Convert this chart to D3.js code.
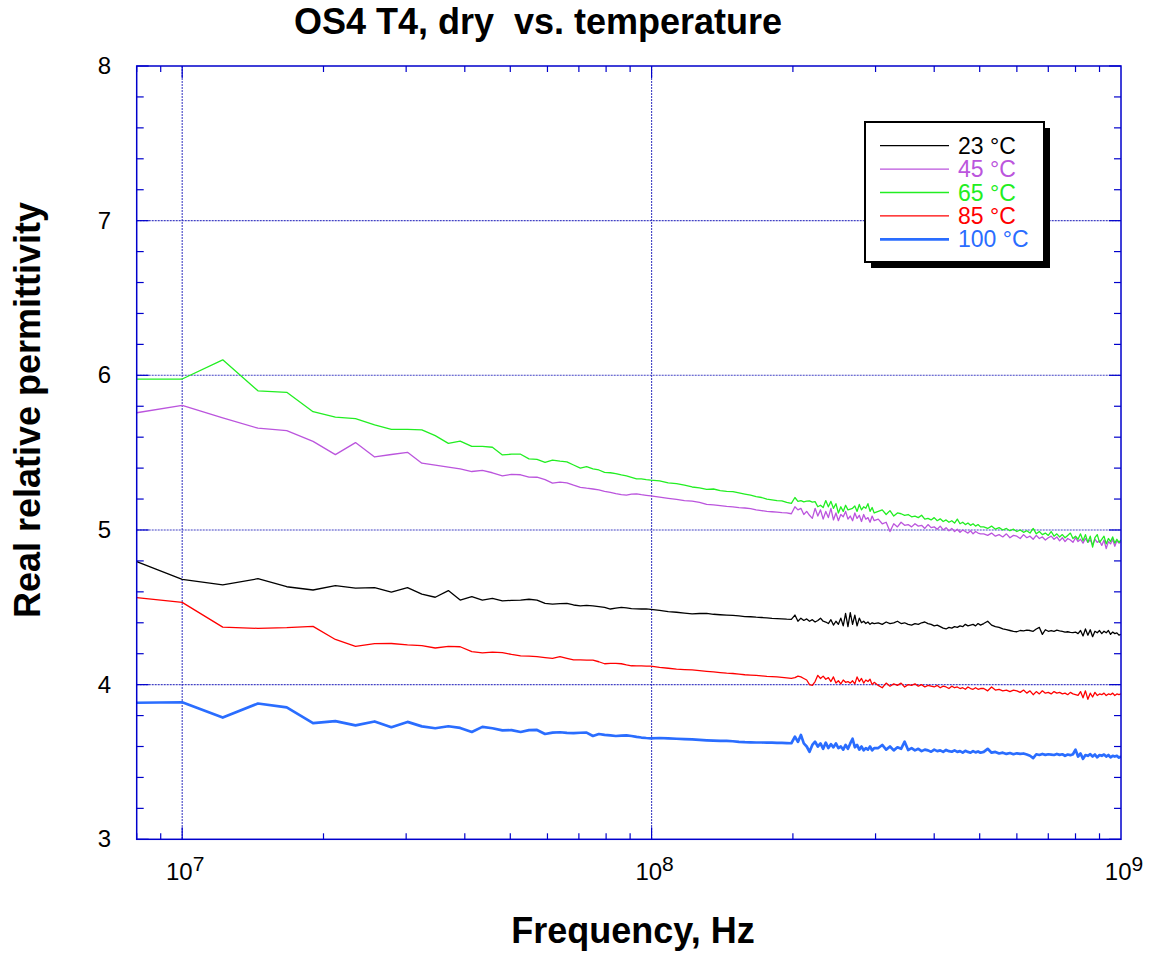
<!DOCTYPE html>
<html><head><meta charset="utf-8">
<script src="https://cdn.jsdelivr.net/npm/d3@7"></script>
<style>body{margin:0;background:#fff} svg{display:block} text{white-space:pre}</style>
</head><body><svg id="c" width="1151" height="953"></svg>
<script>
// ---------------- DATA ----------------
const freqMHz = [8,10,12.2,14.5,16.7,19,21.2,23.4,25.7,27.9,30.2,32.4,34.6,36.9,39.1,41.4,43.6,45.8,48.1,50.3,52.6,54.8,57,59.3,61.5,63.8,66,68.2,70.5,72.7,75,77.2,79.4,81.7,83.9,86.2,88.4,90.6,92.9,95.1,97.4,99.6,
104,108.5,113,117.5,122,126.5,131,135.5,140,144.5,149,153.5,158,162.5,167,171.5,176,180.5,185,189.5,194,198.5,
202,205,208,211,214,217,220,223,226,229,232,235,238,241,244,247,250,253,256,259,262,265,268,271,274,277,280,283,286,289,292,295,298,
304,310,316,322,328,334,340,346,352,358,364,370,376,382,388,394,400,406,412,418,424,430,436,442,448,454,460,466,472,478,484,490,496,502,
510,520,530,540,550,560,570,580,590,600,610,620,630,640,650,660,670,680,690,700,710,720,730,740,750,760,770,780,790,800,810,820,830,840,850,860,870,880,890,900,910,920,930,940,950,960,970,980,990,1000];

const eps23 = [4.795,4.681,4.645,4.685,4.633,4.612,4.64,4.624,4.627,4.598,4.627,4.585,4.565,4.608,4.547,4.569,4.547,4.558,4.541,4.545,4.547,4.552,4.547,4.525,4.521,4.524,4.526,4.515,4.509,4.512,4.509,4.505,4.5,4.489,4.495,4.5,4.497,4.492,4.49,4.489,4.49,4.487,
4.48,4.472,4.468,4.462,4.457,4.46,4.461,4.455,4.452,4.45,4.448,4.444,4.44,4.439,4.436,4.434,4.432,4.429,4.427,4.425,4.423,4.422,
4.45,4.41,4.43,4.415,4.425,4.41,4.42,4.405,4.415,4.43,4.41,4.405,4.395,4.42,4.385,4.41,4.39,4.43,4.38,4.46,4.375,4.465,4.39,4.45,4.38,4.43,4.40,4.41,4.395,4.405,4.39,4.40,4.395,
4.40,4.39,4.405,4.395,4.40,4.41,4.395,4.40,4.39,4.385,4.395,4.39,4.40,4.405,4.395,4.39,4.38,4.385,4.375,4.365,4.36,4.37,4.365,4.375,4.37,4.38,4.375,4.39,4.38,4.385,4.39,4.38,4.395,4.385,
4.395,4.41,4.385,4.375,4.37,4.36,4.355,4.35,4.345,4.342,4.35,4.348,4.353,4.35,4.345,4.36,4.37,4.325,4.355,4.345,4.35,4.345,4.352,4.348,4.345,4.34,4.342,4.338,4.336,4.34,4.33,4.35,4.315,4.36,4.32,4.355,4.31,4.345,4.335,4.35,4.33,4.345,4.335,4.35,4.325,4.34,4.33,4.335,4.32,4.325];

const eps45 = [5.758,5.806,5.725,5.658,5.642,5.573,5.487,5.565,5.472,5.488,5.502,5.432,5.42,5.407,5.395,5.378,5.386,5.37,5.35,5.36,5.357,5.342,5.341,5.325,5.303,5.31,5.305,5.29,5.276,5.27,5.265,5.259,5.25,5.243,5.235,5.228,5.226,5.232,5.233,5.228,5.224,5.22,
5.212,5.205,5.198,5.19,5.187,5.178,5.165,5.162,5.158,5.152,5.15,5.145,5.142,5.138,5.13,5.125,5.12,5.118,5.115,5.112,5.11,5.105,
5.15,5.13,5.14,5.10,5.12,5.095,5.075,5.14,5.09,5.13,5.07,5.12,5.08,5.14,5.065,5.11,5.06,5.10,5.085,5.12,5.07,5.09,5.06,5.11,5.075,5.095,5.055,5.10,5.07,5.08,5.05,5.09,5.06,
5.07,5.04,5.05,4.99,5.04,5.02,5.05,5.03,5.035,5.02,5.04,5.025,5.03,5.01,5.035,5.015,5.02,5.005,5.025,5.0,5.015,4.995,5.01,4.99,5.005,4.985,5.0,4.99,4.98,4.995,4.975,4.99,4.98,4.975,
4.975,4.965,4.98,4.96,4.97,4.955,4.975,4.95,4.965,4.96,4.945,4.97,4.95,4.96,4.94,4.965,4.945,4.955,4.935,4.95,4.96,4.94,4.955,4.93,4.95,4.925,4.945,4.935,4.92,4.95,4.925,4.94,4.915,4.945,4.92,4.935,4.905,4.94,4.92,4.93,4.9,4.935,4.88,4.925,4.91,4.94,4.895,4.93,4.915,4.925];

const eps65 = [5.976,5.976,6.10,5.90,5.89,5.765,5.73,5.72,5.68,5.65,5.65,5.647,5.61,5.56,5.575,5.54,5.54,5.535,5.485,5.49,5.49,5.46,5.457,5.437,5.452,5.445,5.44,5.42,5.40,5.41,5.395,5.388,5.372,5.37,5.365,5.356,5.35,5.34,5.33,5.33,5.325,5.322,
5.318,5.305,5.30,5.29,5.278,5.272,5.262,5.265,5.255,5.25,5.248,5.24,5.232,5.225,5.215,5.21,5.20,5.195,5.19,5.188,5.178,5.172,
5.21,5.185,5.19,5.182,5.186,5.188,5.18,5.183,5.15,5.16,5.145,5.19,5.15,5.185,5.14,5.17,5.11,5.15,5.12,5.16,5.13,5.135,5.14,5.155,5.12,5.165,5.13,5.15,5.14,5.17,5.12,5.145,5.11,
5.12,5.13,5.10,5.125,5.09,5.11,5.105,5.095,5.10,5.085,5.09,5.08,5.095,5.07,5.075,5.065,5.08,5.06,5.072,5.055,5.065,5.05,5.06,5.045,5.07,5.04,5.05,5.035,5.045,5.03,5.04,5.025,5.035,5.02,
5.02,5.01,5.025,5.005,5.015,5.00,5.01,4.995,5.005,4.99,5.00,4.985,4.995,4.98,5.01,4.975,4.99,4.97,4.98,4.965,4.99,4.96,4.975,4.955,4.97,4.95,4.965,4.98,4.945,4.96,4.94,4.975,4.93,4.97,4.92,4.96,4.89,4.95,4.97,4.92,4.94,4.96,4.91,4.945,4.925,4.955,4.915,4.94,4.92,4.935];

const eps85 = [4.562,4.532,4.372,4.364,4.368,4.377,4.292,4.248,4.265,4.266,4.257,4.252,4.237,4.248,4.245,4.213,4.206,4.21,4.207,4.195,4.186,4.185,4.181,4.175,4.17,4.181,4.17,4.16,4.16,4.159,4.158,4.148,4.135,4.137,4.138,4.135,4.128,4.122,4.121,4.121,4.12,4.12,
4.112,4.106,4.10,4.097,4.095,4.09,4.086,4.083,4.078,4.074,4.072,4.068,4.064,4.062,4.06,4.057,4.054,4.052,4.05,4.047,4.044,4.041,
4.045,4.055,4.05,4.04,4.03,4.0,3.995,4.02,4.06,4.04,4.055,4.035,4.045,4.02,4.05,4.01,4.025,4.005,4.03,4.015,4.02,4.01,4.025,4.005,4.05,4.02,4.04,4.01,4.03,4.02,4.035,4.0,4.015,
3.995,3.98,4.01,3.99,4.005,3.995,4.01,3.985,4.0,3.995,4.005,3.99,4.0,3.985,3.995,3.99,3.985,3.995,3.98,3.99,3.985,3.975,3.99,3.98,3.985,3.975,3.98,3.97,3.985,3.975,3.97,3.98,3.97,3.975,
3.975,3.96,3.985,3.965,3.97,3.96,3.965,3.955,3.965,3.96,3.95,3.965,3.945,3.96,3.935,3.955,3.94,3.96,3.945,3.95,3.94,3.955,3.945,3.95,3.94,3.945,3.935,3.95,3.94,3.935,3.93,3.955,3.915,3.96,3.905,3.945,3.92,3.95,3.93,3.94,3.935,3.945,3.93,3.94,3.935,3.945,3.93,3.94,3.935,3.94];

const eps100 = [3.883,3.886,3.787,3.878,3.853,3.751,3.764,3.737,3.762,3.725,3.759,3.73,3.718,3.731,3.72,3.694,3.727,3.718,3.704,3.706,3.694,3.706,3.707,3.681,3.69,3.692,3.688,3.686,3.689,3.69,3.668,3.681,3.675,3.672,3.668,3.67,3.672,3.668,3.662,3.658,3.655,3.653,
3.655,3.653,3.65,3.648,3.646,3.643,3.64,3.638,3.637,3.636,3.634,3.63,3.628,3.627,3.626,3.626,3.625,3.625,3.624,3.623,3.622,3.621,
3.664,3.63,3.675,3.62,3.60,3.566,3.61,3.631,3.60,3.62,3.585,3.625,3.59,3.615,3.595,3.62,3.59,3.60,3.58,3.61,3.585,3.62,3.65,3.595,3.61,3.58,3.60,3.575,3.59,3.58,3.6,3.575,3.59,
3.59,3.61,3.58,3.60,3.575,3.595,3.585,3.631,3.577,3.59,3.575,3.585,3.57,3.58,3.575,3.566,3.58,3.57,3.575,3.565,3.578,3.57,3.566,3.575,3.565,3.57,3.56,3.572,3.565,3.56,3.57,3.562,3.568,3.56,
3.565,3.585,3.56,3.565,3.555,3.56,3.552,3.558,3.55,3.556,3.552,3.555,3.548,3.54,3.525,3.55,3.545,3.552,3.546,3.55,3.548,3.545,3.552,3.546,3.55,3.54,3.548,3.544,3.55,3.58,3.535,3.555,3.52,3.545,3.54,3.55,3.535,3.548,3.53,3.545,3.54,3.548,3.535,3.545,3.53,3.54,3.535,3.54,3.528,3.535];

const seriesNames = ["23 °C","45 °C","65 °C","85 °C","100 °C"];
const seriesColors = ["#000000","#bb55dd","#22ee22","#ff0000","#2a6dff"];
const seriesWidths = [1.3,1.3,1.3,1.3,2.7];
const seriesValues = [eps23, eps45, eps65, eps85, eps100];
const drawOrder = [0,1,2,3,4];
const yTicks = [3,4,5,6,7,8];
const xTickExps = [7,8,9];
const titleText = "OS4 T4, dry  vs. temperature";
const xLabel = "Frequency, Hz";
const yLabel = "Real relative permittivity";

// ---------------- CHART ----------------
const svg = d3.select("#c");
const P = {l:136.7, r:1121, t:66, b:839.3};
const x = d3.scaleLog().domain([8e6,1e9]).range([P.l,P.r]);
const y = d3.scaleLinear().domain([3,8]).range([P.b,P.t]);
const AX = "#0000cc", GRID = "#2222bb";
const font = "Liberation Sans, Arial, Helvetica, sans-serif";

// grid
const g = svg.append("g");
g.selectAll(".hg").data(yTicks.filter(v=>v>3&&v<8)).enter().append("line")
  .attr("x1",P.l).attr("x2",P.r).attr("y1",d=>y(d)).attr("y2",d=>y(d))
  .attr("stroke",GRID).attr("stroke-width",1.1).attr("stroke-opacity",0.85).attr("stroke-dasharray","2,1");
g.selectAll(".vg").data([1e7,1e8]).enter().append("line")
  .attr("y1",P.t).attr("y2",P.b).attr("x1",d=>x(d)).attr("x2",d=>x(d))
  .attr("stroke",GRID).attr("stroke-width",1.1).attr("stroke-opacity",0.85).attr("stroke-dasharray","2,1");

// minor ticks y (left & right, inward)
const yMinor = d3.range(3,8.001,0.2).map(v=>+v.toFixed(1));
yMinor.forEach(v=>{
  const major = Math.abs(v-Math.round(v))<1e-6;
  const L = major?12:7;
  g.append("line").attr("x1",P.l).attr("x2",P.l+L).attr("y1",y(v)).attr("y2",y(v)).attr("stroke",AX).attr("stroke-width",1.2);
  g.append("line").attr("x1",P.r).attr("x2",P.r-L).attr("y1",y(v)).attr("y2",y(v)).attr("stroke",AX).attr("stroke-width",1.2);
});
// minor ticks x (bottom & top, inward)
const xMinor = [];
[6,7,8].forEach(e=>{ for(let k=1;k<=9;k++){ const f=k*Math.pow(10,e); if(f>=8e6&&f<=1e9) xMinor.push(f);} });
xMinor.forEach(f=>{
  const major = [1e7,1e8,1e9].includes(f);
  const L = major?12:6;
  g.append("line").attr("x1",x(f)).attr("x2",x(f)).attr("y1",P.b).attr("y2",P.b-L).attr("stroke",AX).attr("stroke-width",1.2);
  g.append("line").attr("x1",x(f)).attr("x2",x(f)).attr("y1",P.t).attr("y2",P.t+L).attr("stroke",AX).attr("stroke-width",1.2);
});

// clip
svg.append("clipPath").attr("id","clip").append("rect").attr("x",P.l).attr("y",P.t).attr("width",P.r-P.l).attr("height",P.b-P.t);

// series
const line = d3.line().x(d=>x(d[0]*1e6)).y(d=>y(d[1]));
const lg = svg.append("g").attr("clip-path","url(#clip)");
drawOrder.forEach(i=>{
  const pts = freqMHz.map((f,j)=>[f, seriesValues[i][j]]);
  lg.append("path").datum(pts).attr("d",line).attr("fill","none")
    .attr("stroke",seriesColors[i]).attr("stroke-width",seriesWidths[i]).attr("stroke-linejoin","round");
});

// frame
svg.append("rect").attr("x",P.l).attr("y",P.t).attr("width",P.r-P.l).attr("height",P.b-P.t)
  .attr("fill","none").attr("stroke",AX).attr("stroke-width",1.5);

// y tick labels
svg.selectAll(".yl").data(yTicks).enter().append("text")
  .attr("x",111).attr("y",d=>y(d)+8).attr("text-anchor","end")
  .attr("font-family",font).attr("font-size",24).attr("fill","#000").text(d=>d);

// x tick labels 10^n
xTickExps.forEach(e=>{
  const t = svg.append("text").attr("x",x(Math.pow(10,e))+3).attr("y",880).attr("text-anchor","middle")
    .attr("font-family",font).attr("font-size",24).attr("fill","#000");
  t.append("tspan").text("10");
  t.append("tspan").attr("dy",-9).attr("font-size",21).text(e);
});

// title & axis labels
svg.append("text").attr("x",538).attr("y",34).attr("text-anchor","middle")
  .attr("font-family",font).attr("font-weight","bold").attr("font-size",36).text(titleText);
svg.append("text").attr("x",633).attr("y",943).attr("text-anchor","middle")
  .attr("font-family",font).attr("font-weight","bold").attr("font-size",36).text(xLabel);
svg.append("text").attr("transform","translate(40,410) rotate(-90)").attr("text-anchor","middle")
  .attr("font-family",font).attr("font-weight","bold").attr("font-size",36).text(yLabel);

// legend
const LG = {x:865,y:122,w:179,h:140};
svg.append("rect").attr("x",LG.x+6).attr("y",LG.y+6).attr("width",LG.w).attr("height",LG.h).attr("fill","#000");
svg.append("rect").attr("x",LG.x).attr("y",LG.y).attr("width",LG.w).attr("height",LG.h).attr("fill","#fff").attr("stroke","#000").attr("stroke-width",2);
seriesNames.forEach((n,i)=>{
  const ry = 145.7 + i*23.4;
  svg.append("line").attr("x1",880).attr("x2",949).attr("y1",ry).attr("y2",ry)
    .attr("stroke",seriesColors[i]).attr("stroke-width",seriesWidths[i]);
  svg.append("text").attr("x",958).attr("y",ry+8).attr("font-family",font).attr("font-size",23)
    .attr("fill",seriesColors[i]).text(n);
});
</script>
</body></html>
